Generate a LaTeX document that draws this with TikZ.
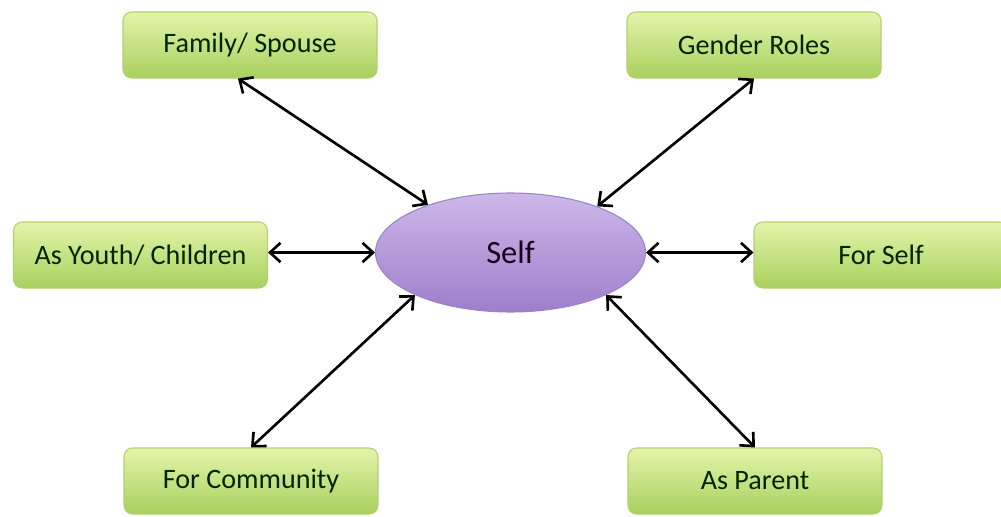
\documentclass[tikz,border=0pt]{standalone}
\usepackage{fontspec}
\setmainfont{Carlito}
\usepackage{tikz}
\usepackage{xcolor}
\usetikzlibrary{shapes.geometric,arrows.meta}

\definecolor{boxtop}{HTML}{E4F4AA}
\definecolor{boxbot}{HTML}{A8D05E}
\definecolor{boxline}{HTML}{B2D070}
\definecolor{elltop}{HTML}{CDB8EA}
\definecolor{ellbot}{HTML}{9E7ECB}
\definecolor{ellline}{HTML}{9A84C2}

\begin{document}
\begin{tikzpicture}[
  box/.style={draw=boxline,line width=0.6pt,rounded corners=5pt,top color=boxtop,bottom color=boxbot,
    minimum width=5.08cm,minimum height=1.32cm,text=black!85!green,font=\fontsize{16}{19}\selectfont},
  selfnode/.style={ellipse,draw=ellline,line width=0.6pt,top color=elltop,bottom color=ellbot,
    minimum width=5.4cm,minimum height=2.38cm,text=black!80!violet,font=\fontsize{18.5}{22}\selectfont},
  link/.style={{Straight Barb[length=6pt,width=11pt]}-{Straight Barb[length=6pt,width=11pt]},line width=1.5pt}]
\useasboundingbox (0,0) rectangle (20.02,10.32);
\node[selfnode] (self) at (10.21,5.27){Self};
\node[box] (fam) at (5.00,9.42){Family/ Spouse};
\node[box] (gen) at (15.08,9.42){Gender Roles};
\node[box] (youth) at (2.81,5.22){As Youth/ Children};
\node[box] (forself) at (17.62,5.22){For Self};
\node[box] (com) at (5.02,0.70){For Community};
\node[box] (par) at (15.10,0.70){As Parent};
\draw[link]([xshift=-0.24cm]fam.south)--(self.150);
\draw[link](gen.south)--(self.28);
\draw[link](youth.east|-self.180)--(self.180);
\draw[link](self.0)--(forself.west|-self.0);
\draw[link](com.north)--(self.204);
\draw[link](par.north)--(self.336);
\end{tikzpicture}
\end{document}
